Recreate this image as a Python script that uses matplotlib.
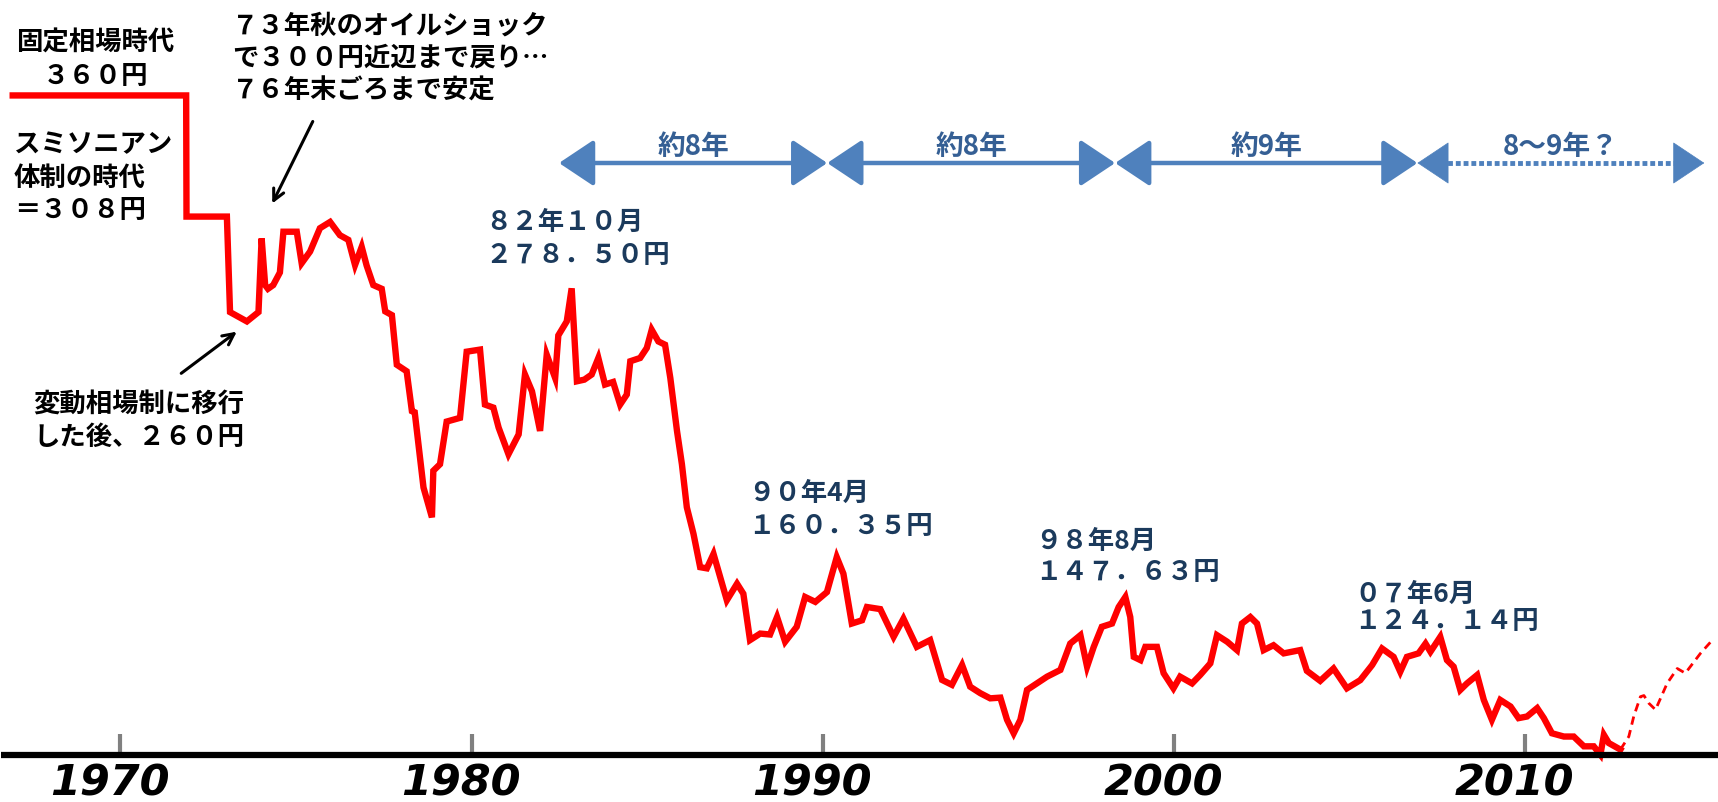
import matplotlib as mpl
mpl.use("Agg")
import matplotlib.pyplot as plt
from matplotlib.patches import FancyArrowPatch

plt.rcParams['font.family'] = ['Noto Sans CJK JP', 'DejaVu Sans']

# monthly-ish USD/JPY (year, yen)
years = [1966.93, 1971.87, 1971.88, 1973.03, 1973.12, 1973.6, 1973.93, 1974.02, 1974.12, 1974.2,
         1974.35, 1974.54, 1974.64, 1975.02, 1975.16, 1975.4, 1975.68, 1975.97, 1976.25, 1976.49,
         1976.68, 1976.87, 1977.01, 1977.2, 1977.44, 1977.54, 1977.73, 1977.87, 1978.15, 1978.3,
         1978.38, 1978.63, 1978.87, 1978.91, 1979.1, 1979.29, 1979.67, 1979.86, 1980.24, 1980.38,
         1980.62, 1980.77, 1981.05, 1981.34, 1981.52, 1981.72, 1981.95, 1982.14, 1982.38, 1982.47,
         1982.71, 1982.85, 1983.0, 1983.21, 1983.42, 1983.61, 1983.8, 1984.03, 1984.23, 1984.42,
         1984.52, 1984.8, 1984.99, 1985.13, 1985.32, 1985.51, 1985.66, 1985.85, 1985.99, 1986.13,
         1986.32, 1986.51, 1986.7, 1986.89, 1987.08, 1987.27, 1987.56, 1987.74, 1987.93, 1988.22,
         1988.5, 1988.7, 1988.93, 1989.26, 1989.5, 1989.79, 1990.12, 1990.4, 1990.59, 1990.83,
         1991.12, 1991.26, 1991.64, 1992.02, 1992.3, 1992.68, 1993.06, 1993.4, 1993.68, 1993.97,
         1994.2, 1994.49, 1994.77, 1995.06, 1995.25, 1995.44, 1995.63, 1995.82, 1996.1, 1996.39,
         1996.77, 1997.05, 1997.34, 1997.53, 1997.72, 1997.95, 1998.24, 1998.43, 1998.62, 1998.76,
         1998.86, 1999.05, 1999.19, 1999.52, 1999.71, 1999.99, 2000.18, 2000.52, 2000.75, 2001.04,
         2001.23, 2001.52, 2001.8, 2001.94, 2002.18, 2002.37, 2002.56, 2002.84, 2003.13, 2003.6,
         2003.79, 2004.17, 2004.55, 2004.93, 2005.31, 2005.65, 2005.93, 2006.26, 2006.45, 2006.64,
         2006.97, 2007.17, 2007.31, 2007.59, 2007.78, 2007.97, 2008.16, 2008.35, 2008.64, 2008.83,
         2009.06, 2009.3, 2009.59, 2009.82, 2010.06, 2010.35, 2010.54, 2010.77, 2011.11, 2011.39,
         2011.68, 2011.96, 2012.15, 2012.25, 2012.39, 2012.53, 2012.72]
yen = [360, 360, 308, 308, 267, 263, 267, 298.6, 278.6, 277,
       278.6, 284, 301.5, 301.5, 288, 293, 303, 305.7, 300, 298,
       287.2, 295, 287, 278.6, 277, 267.3, 265.7, 244.4, 241.6, 224.5,
       224, 191.7, 178.9, 198.9, 201.7, 220, 221.6, 250, 250.9, 227.3,
       226, 217.4, 206, 214.5, 240.2, 233, 216, 248.7, 238.7, 257,
       263, 277.2, 237.3, 238, 240.2, 247.3, 235.9, 237, 227.3, 231.6,
       245.9, 247.3, 251.6, 259.4, 254.4, 253, 238.7, 216, 201.7, 183.2,
       171.8, 157.5, 157, 163.2, 153.2, 143.3, 150.4, 146.1, 126.2, 129,
       128.6, 136.1, 125.5, 131.9, 144.7, 142.6, 146.8, 161.8, 154.7, 133.3,
       134.7, 140.4, 139.5, 127.6, 135.4, 123.3, 126.2, 109.1, 107, 115.5,
       106.2, 103.4, 101.2, 101.5, 92, 86.2, 92, 104.8, 107.6, 110.5,
       113.4, 124.7, 128.3, 114.8, 123.3, 131.9, 133.3, 140.4, 144.7, 136.1,
       119, 117.6, 123.3, 123.3, 112, 105.5, 110.5, 107.6, 111.2, 116.2,
       128.3, 125.5, 121.9, 133.3, 136.1, 133.3, 121.9, 124, 120.5, 121.9,
       113, 108.7, 114, 105.5, 109, 115.5, 122.6, 119, 112.6, 119,
       120.5, 124.7, 121.2, 127.6, 117.6, 114.8, 104.8, 107.6, 111.2, 100.5,
       92, 100.5, 97.7, 92.7, 93.4, 97, 92.7, 86.2, 84.8, 84.8,
       80.6, 80.6, 77, 85.5, 82, 80.8, 79.2]

# dashed outlook after 2012
proj_years = [2012.72, 2012.96, 2013.1, 2013.29, 2013.39, 2013.53, 2013.72, 2014.05, 2014.34, 2014.57, 2015.0, 2015.38]
proj_yen = [79.2, 84.8, 93.4, 101.9, 102.4, 99.1, 96.3, 107.6, 114, 112, 120.5, 126.9]

tick_years = [1970, 1980, 1990, 2000, 2010]

peak_labels = [("８２年１０月", "２７８．５０円"), ("９０年4月", "１６０．３５円"),
               ("９８年8月", "１４７．６３円"), ("０７年6月", "１２４．１４円")]
peak_pos = [(485, 222, 256), (748, 493, 527), (1035, 541, 573), (1354, 594, 622)]

span_bounds = [1982.49, 1990.13, 1998.33, 2006.94, 2015.11]
span_labels = ["約8年", "約8年", "約9年", "8～9年？"]

W, H = 1718, 803
fig = plt.figure(figsize=(W / 100, H / 100), dpi=100)
ax = fig.add_axes([0, 0, 1, 1])
ax.set_xlim(1966.568, 2015.50)
ax.set_ylim(56.7, 401.4)
ax.axis('off')


def px(x, y):
    return x / W, 1 - y / H


red = '#ff0000'
ax.plot(years, yen, color=red, lw=4.6, solid_joinstyle='miter', zorder=3)
ax.plot(proj_years, proj_yen, color=red, lw=2.0, ls=(0, (3, 2)), zorder=3)

# base line and decade ticks
base = 77.0
ax.plot([1966.6, 2015.5], [base, base], color='black', lw=4.5, zorder=4, solid_capstyle='butt')
ax.vlines(tick_years, base, base + 9, color='#808080', lw=3, zorder=2)
for t in tick_years:
    ax.text(t - 0.3, 65.0, str(t), ha='center', va='center', family='DejaVu Sans',
            weight='bold', style='italic', fontsize=31)

# black annotations
kw = dict(fontsize=19, weight='bold', color='black', va='center')
fig.text(*px(95, 43), "固定相場時代", ha='center', **kw)
fig.text(*px(95, 76), "３６０円", ha='center', **kw)
fig.text(*px(14, 145), "スミソニアン", ha='left', **kw)
fig.text(*px(14, 178), "体制の時代", ha='left', **kw)
fig.text(*px(14, 211), "＝３０８円", ha='left', **kw)
fig.text(*px(232, 26), "７３年秋のオイルショック", ha='left', **kw)
fig.text(*px(232, 58), "で３００円近辺まで戻り…", ha='left', **kw)
fig.text(*px(232, 91), "７６年末ごろまで安定", ha='left', **kw)
fig.text(*px(33, 405), "変動相場制に移行", ha='left', **kw)
fig.text(*px(33, 437), "した後、２６０円", ha='left', **kw)

arrow_kw = dict(arrowstyle='->, head_length=0.8, head_width=0.4', color='black', lw=2.2)
ax.annotate('', xy=px(271, 207), xytext=px(314, 120), xycoords='figure fraction',
            textcoords='figure fraction', arrowprops=arrow_kw)
ax.annotate('', xy=px(239, 331), xytext=px(179, 376), xycoords='figure fraction',
            textcoords='figure fraction', arrowprops=arrow_kw)

# peak labels
navy = '#1b3a5c'
for (l1, l2), (x, y1, y2) in zip(peak_labels, peak_pos):
    fig.text(*px(x, y1), l1, ha='left', va='center', fontsize=19, weight='bold', color=navy)
    fig.text(*px(x, y2), l2, ha='left', va='center', fontsize=19, weight='bold', color=navy)

# span arrows
blue = '#4f81bd'
ya = 401.4 - 164 / H * (401.4 - 56.7)
for i in range(4):
    x0, x1 = span_bounds[i], span_bounds[i + 1]
    if i < 3:
        ax.add_patch(FancyArrowPatch((x0, ya), (x1, ya), arrowstyle='<|-|>, head_length=1.2, head_width=0.8',
                                     mutation_scale=18, color=blue, lw=3.2, shrinkA=0, shrinkB=0))
    else:
        ax.plot([x0 + 0.4, x1 - 0.4], [ya, ya], color=blue, lw=3.5, ls=(0, (1, 0.6)))
        for a, b in [(x0 + 0.6, x0), (x1 - 0.6, x1)]:
            ax.add_patch(FancyArrowPatch((a, ya), (b, ya), arrowstyle='-|>, head_length=1.2, head_width=0.8',
                                         mutation_scale=18, color=blue, lw=0.5, shrinkA=0, shrinkB=0))
    ax.text((x0 + x1) / 2, ya + 7.3, span_labels[i], ha='center', va='center', fontsize=20,
            weight='bold', color='#355f94')

fig.savefig('out.png', dpi=100)
